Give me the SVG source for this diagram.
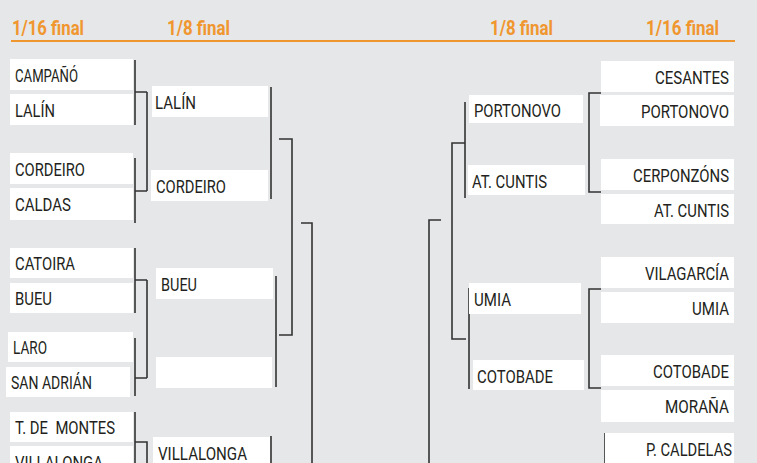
<svg xmlns="http://www.w3.org/2000/svg" width="757" height="463" viewBox="0 0 757 463">
<style>
.bg{fill:#e6e7e8}
.box{fill:#ffffff}
.t{font-family:Roboto,"Liberation Sans",sans-serif;font-size:18px;fill:#231f20}
.r{text-anchor:end}
.h{font-family:Roboto,"Liberation Sans",sans-serif;font-size:20px;font-weight:bold;fill:#f0962f}
.c{stroke:#333333;stroke-width:1.6;fill:none}
.rule{stroke:#f0962f;stroke-width:2}
</style>
<rect class="bg" x="0" y="0" width="757" height="463"/>
<g id="headers">
<text class="h" x="12" y="35" textLength="72" lengthAdjust="spacingAndGlyphs">1/16 final</text>
<text class="h" x="167" y="35" textLength="63" lengthAdjust="spacingAndGlyphs">1/8 final</text>
<text class="h" x="490" y="35" textLength="63" lengthAdjust="spacingAndGlyphs">1/8 final</text>
<text class="h" x="646" y="35" textLength="73" lengthAdjust="spacingAndGlyphs">1/16 final</text>
<line class="rule" x1="11" y1="41" x2="735" y2="41"/>
</g>
<g id="connectors">
<path class="c" d="M135,60V125M135,92H147M147,92V191M135,158V223M135,191H147"/>
<path class="c" d="M135,248V313M135,280H147M147,280V378M135,338V396M135,378H147"/>
<path class="c" d="M135,412V463M135,442H147V463"/>
<path class="c" d="M271,87V199M279,139H292V335H279M276,276V387M271,436V463M301,223H312V463"/>
<path class="c" d="M601,93H589V192H601M601,289H589V388H601M605,433V463"/>
<path class="c" d="M465,102V198M465,143H452V339H466M469,288V389M441,220H429V463"/>
</g>
<g id="l16-campano"><rect class="box" x="10" y="59" width="123" height="31"/><text class="t" x="15" y="82" textLength="63" lengthAdjust="spacingAndGlyphs">CAMPAÑÓ</text></g>
<g id="l16-lalin"><rect class="box" x="10" y="94" width="123" height="31"/><text class="t" x="15" y="117" textLength="40" lengthAdjust="spacingAndGlyphs">LALÍN</text></g>
<g id="l16-cordeiro"><rect class="box" x="10" y="153" width="123" height="31"/><text class="t" x="15" y="176" textLength="70" lengthAdjust="spacingAndGlyphs">CORDEIRO</text></g>
<g id="l16-caldas"><rect class="box" x="10" y="188" width="123" height="32"/><text class="t" x="15" y="211" textLength="56" lengthAdjust="spacingAndGlyphs">CALDAS</text></g>
<g id="l16-catoira"><rect class="box" x="10" y="248" width="123" height="30"/><text class="t" x="15" y="270" textLength="60" lengthAdjust="spacingAndGlyphs">CATOIRA</text></g>
<g id="l16-bueu"><rect class="box" x="10" y="283" width="123" height="30"/><text class="t" x="15" y="305" textLength="37" lengthAdjust="spacingAndGlyphs">BUEU</text></g>
<g id="l16-laro"><rect class="box" x="8" y="332" width="125" height="30"/><text class="t" x="13" y="354" textLength="34" lengthAdjust="spacingAndGlyphs">LARO</text></g>
<g id="l16-sanadrian"><rect class="box" x="6" y="367" width="124" height="30"/><text class="t" x="11" y="389" textLength="81" lengthAdjust="spacingAndGlyphs">SAN ADRIÁN</text></g>
<g id="l16-tdemontes"><rect class="box" x="10" y="412" width="123" height="30"/><text class="t" x="15" y="434" textLength="100" lengthAdjust="spacingAndGlyphs" xml:space="preserve">T. DE  MONTES</text></g>
<g id="l16-villalonga"><rect class="box" x="10" y="446" width="123" height="31"/><text class="t" x="15" y="469" textLength="88" lengthAdjust="spacingAndGlyphs">VILLALONGA</text></g>
<g id="l8-lalin"><rect class="box" x="152" y="86" width="116" height="31"/><text class="t" x="155" y="109" textLength="41" lengthAdjust="spacingAndGlyphs">LALÍN</text></g>
<g id="l8-cordeiro"><rect class="box" x="151" y="170" width="117" height="31"/><text class="t" x="156" y="193" textLength="70" lengthAdjust="spacingAndGlyphs">CORDEIRO</text></g>
<g id="l8-bueu"><rect class="box" x="156" y="268" width="117" height="31"/><text class="t" x="161" y="291" textLength="36" lengthAdjust="spacingAndGlyphs">BUEU</text></g>
<g id="l8-empty"><rect class="box" x="156" y="357" width="116" height="31"/></g>
<g id="l8-villalonga"><rect class="box" x="153" y="437" width="117" height="31"/><text class="t" x="158" y="460" textLength="89" lengthAdjust="spacingAndGlyphs">VILLALONGA</text></g>
<g id="r8-portonovo"><rect class="box" x="469" y="95" width="114" height="28"/><text class="t" x="474" y="117" textLength="87" lengthAdjust="spacingAndGlyphs">PORTONOVO</text></g>
<g id="r8-atcuntis"><rect class="box" x="468" y="165" width="117" height="30"/><text class="t" x="472" y="188" textLength="75" lengthAdjust="spacingAndGlyphs">AT. CUNTIS</text></g>
<g id="r8-umia"><rect class="box" x="469" y="283" width="112" height="31"/><text class="t" x="474" y="306" textLength="37" lengthAdjust="spacingAndGlyphs">UMIA</text></g>
<g id="r8-cotobade"><rect class="box" x="473" y="360" width="111" height="30"/><text class="t" x="477" y="383" textLength="76" lengthAdjust="spacingAndGlyphs">COTOBADE</text></g>
<g id="r16-cesantes"><rect class="box" x="601" y="61" width="133" height="31"/><text class="t r" x="729" y="84" textLength="74" lengthAdjust="spacingAndGlyphs">CESANTES</text></g>
<g id="r16-portonovo"><rect class="box" x="600" y="95" width="134" height="31"/><text class="t r" x="729" y="118" textLength="88" lengthAdjust="spacingAndGlyphs">PORTONOVO</text></g>
<g id="r16-cerponzons"><rect class="box" x="601" y="159" width="133" height="31"/><text class="t r" x="729" y="182" textLength="96" lengthAdjust="spacingAndGlyphs">CERPONZÓNS</text></g>
<g id="r16-atcuntis"><rect class="box" x="601" y="194" width="133" height="30"/><text class="t r" x="729" y="217" textLength="75" lengthAdjust="spacingAndGlyphs">AT. CUNTIS</text></g>
<g id="r16-vilagarcia"><rect class="box" x="601" y="257" width="133" height="31"/><text class="t r" x="729" y="280" textLength="84" lengthAdjust="spacingAndGlyphs">VILAGARCÍA</text></g>
<g id="r16-umia"><rect class="box" x="601" y="292" width="133" height="31"/><text class="t r" x="729" y="315" textLength="37" lengthAdjust="spacingAndGlyphs">UMIA</text></g>
<g id="r16-cotobade"><rect class="box" x="601" y="355" width="133" height="31"/><text class="t r" x="729" y="378" textLength="76" lengthAdjust="spacingAndGlyphs">COTOBADE</text></g>
<g id="r16-morana"><rect class="box" x="601" y="390" width="133" height="32"/><text class="t r" x="729" y="413" textLength="64" lengthAdjust="spacingAndGlyphs">MORAÑA</text></g>
<g id="r16-pcaldelas"><rect class="box" x="605" y="433" width="129" height="31"/><text class="t r" x="732" y="456" textLength="86" lengthAdjust="spacingAndGlyphs">P. CALDELAS</text></g>
</svg>
